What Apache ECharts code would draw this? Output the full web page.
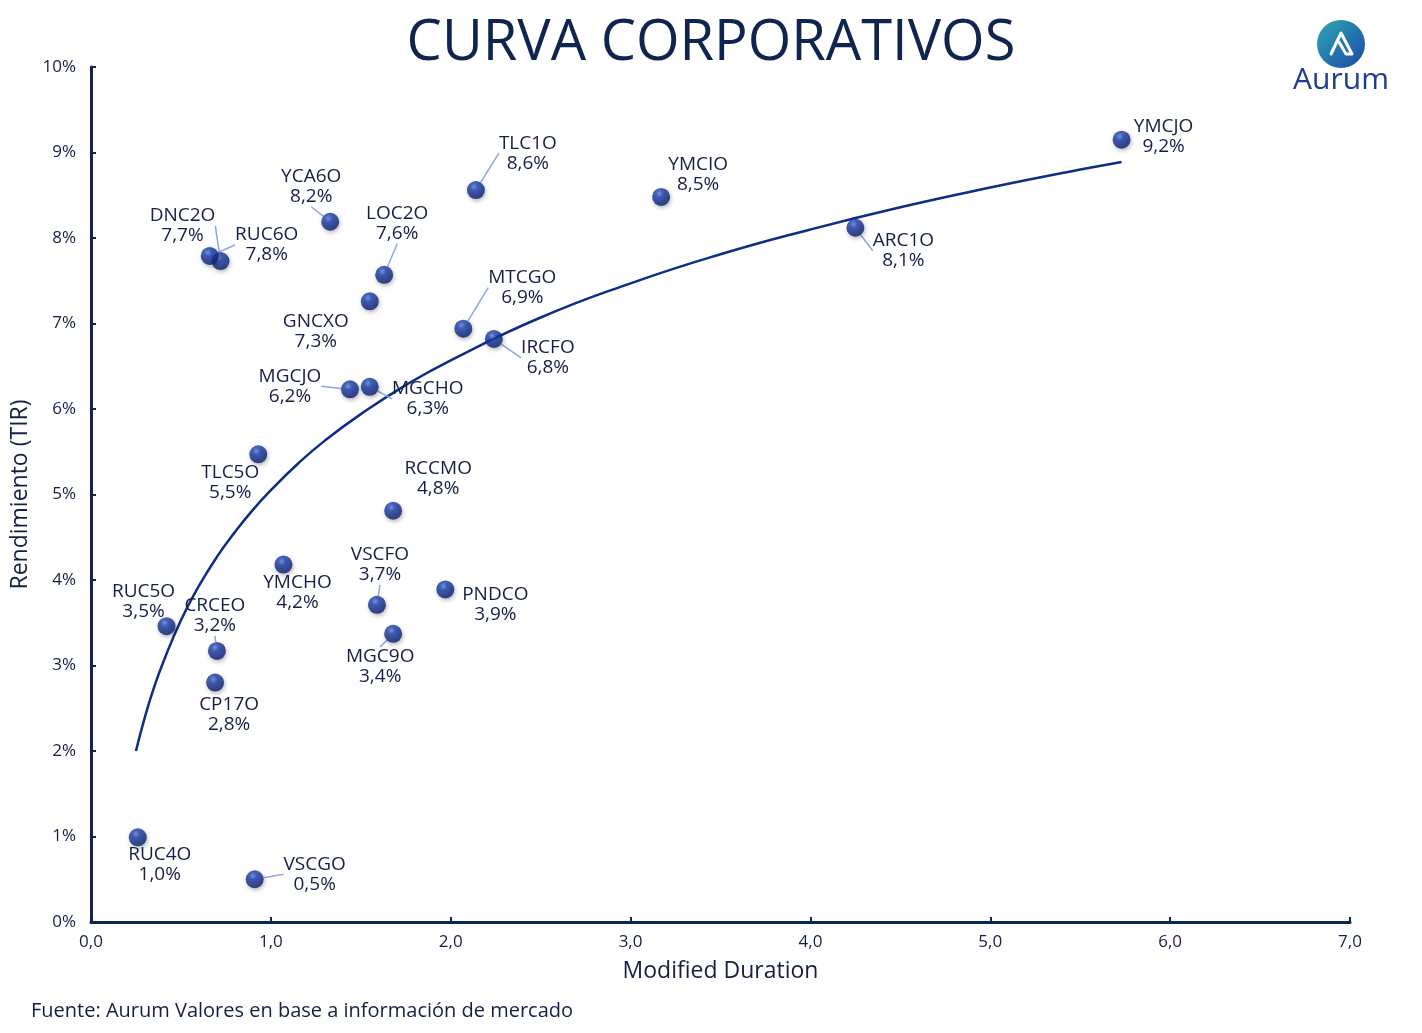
<!DOCTYPE html>
<html>
<head>
<meta charset="utf-8">
<title>Curva Corporativos</title>
<script src="https://cdn.jsdelivr.net/npm/echarts@6/dist/echarts.min.js"></script>
<style>
  html, body { margin: 0; padding: 0; background: #fff; }
  #main { width: 1422px; height: 1033px; }
</style>
</head>
<body>
<div id="main"></div>
<script>
// bonos: nombre, duration modificada, TIR (%)
const bonos = ['YMCJO', 'TLC1O', 'YMCIO', 'ARC1O', 'YCA6O', 'DNC2O', 'RUC6O', 'LOC2O', 'GNCXO', 'MTCGO', 'IRCFO',
  'MGCJO', 'MGCHO', 'TLC5O', 'RCCMO', 'YMCHO', 'PNDCO', 'VSCFO', 'MGC9O', 'RUC5O', 'CRCEO', 'CP17O', 'RUC4O', 'VSCGO'];
const duration = [5.73, 2.14, 3.17, 4.25, 1.33, 0.72, 0.66, 1.63, 1.55, 2.07, 2.24,
  1.44, 1.55, 0.93, 1.68, 1.07, 1.97, 1.59, 1.68, 0.42, 0.70, 0.69, 0.26, 0.91];
const tir = [9.15, 8.56, 8.48, 8.12, 8.19, 7.73, 7.79, 7.57, 7.26, 6.94, 6.82,
  6.23, 6.26, 5.47, 4.81, 4.18, 3.89, 3.71, 3.37, 3.46, 3.17, 2.80, 0.99, 0.50];

// curva de tendencia
const curvaX = [0.25, 0.3, 0.35, 0.4, 0.5, 0.6, 0.7, 0.8, 0.9, 1, 1.15, 1.3, 1.5, 1.75, 2, 2.5, 3, 3.5, 4, 4.5, 5, 5.5, 5.73];
const curvaY = [2.00, 2.40, 2.74, 3.03, 3.53, 3.93, 4.27, 4.56, 4.82, 5.05, 5.36, 5.63, 5.94, 6.28, 6.57, 7.07, 7.47, 7.81, 8.10, 8.36, 8.59, 8.80, 8.89];

const ejeX = [0, 1, 2, 3, 4, 5, 6, 7];
const ejeY = [0, 1, 2, 3, 4, 5, 6, 7, 8, 9, 10];

// desplazamiento de cada etiqueta (px) y si lleva linea guia
const etiquetaDx = [42, 52, 37, 48, -19, -38, 57, 13, -54, 59, 54, -60, 58, -28, 45, 14, 50, 3, -13, -23, -2, 14, 22, 60];
const etiquetaDy = [-3, -37, -22, 23, -35, -35, -11, -51, 30, -41, 19, -3, 12, 28, -32, 28, 15, -40, 33, -25, -35, 32, 27, -5];
const conLinea = [0, 1, 0, 1, 1, 1, 1, 1, 0, 1, 1, 1, 1, 0, 0, 0, 0, 1, 1, 0, 1, 0, 0, 1];

const navy = '#0f2550';
const texto = '#141f45';
const fuente = 'Open Sans';

const esfera = {
  type: 'radial', x: 0.4, y: 0.32, r: 0.7,
  colorStops: [
    { offset: 0, color: '#5f84e6' },
    { offset: 0.3, color: '#1c3fad' },
    { offset: 1, color: '#0a1c6a' }
  ]
};

const puntos = bonos.map((b, i) => ({
  name: b,
  value: [duration[i], tir[i]],
  labelLine: { show: !!conLinea[i] }
}));

const myChart = echarts.init(document.getElementById('main'));

const option = {
  backgroundColor: '#fff',
  animation: false,
  textStyle: { fontFamily: fuente },
  title: {
    text: 'CURVA CORPORATIVOS',
    left: 'center',
    top: 11,
    textStyle: { color: navy, fontSize: 56, fontWeight: 'normal', fontFamily: fuente }
  },
  grid: { left: 91, right: 72, top: 67, bottom: 111, containLabel: false },
  xAxis: {
    type: 'value',
    min: 0, max: 7, interval: 1,
    name: 'Modified Duration',
    nameLocation: 'middle',
    nameGap: 38,
    nameTextStyle: { color: texto, fontSize: 23, fontFamily: fuente },
    splitLine: { show: false },
    axisLine: { show: true, lineStyle: { color: navy, width: 3 } },
    axisTick: { show: true, inside: true, length: 5, lineStyle: { color: navy, width: 2 }, customValues: ejeX },
    axisLabel: {
      color: texto, fontSize: 17, margin: 12, customValues: ejeX,
      formatter: v => v.toFixed(1).replace('.', ',')
    }
  },
  yAxis: {
    type: 'value',
    min: 0, max: 10, interval: 1,
    name: 'Rendimiento (TIR)',
    nameLocation: 'middle',
    nameGap: 58,
    nameTextStyle: { color: texto, fontSize: 23, fontFamily: fuente },
    splitLine: { show: false },
    axisLine: { show: true, lineStyle: { color: navy, width: 3 } },
    axisTick: { show: true, inside: true, length: 5, lineStyle: { color: navy, width: 2 }, customValues: ejeY },
    axisLabel: { color: texto, fontSize: 17, margin: 15, customValues: ejeY, formatter: v => v + '%' }
  },
  series: [
    {
      name: 'Tendencia',
      type: 'line',
      smooth: true,
      symbol: 'none',
      data: curvaX.map((x, i) => [x, curvaY[i]]),
      lineStyle: { color: '#0d2d86', width: 2.5 },
      z: 1
    },
    {
      name: 'Bonos',
      type: 'scatter',
      symbolSize: 18,
      data: puntos,
      itemStyle: {
        color: esfera,
        shadowBlur: 4,
        shadowColor: 'rgba(0,0,0,0.35)',
        shadowOffsetX: 1,
        shadowOffsetY: 2
      },
      label: {
        show: true,
        position: 'inside',
        color: texto,
        textBorderWidth: 0,
        textBorderColor: 'transparent',
        textShadowBlur: 0,
        opacity: 1,
        fontSize: 19,
        fontWeight: 'normal',
        lineHeight: 20,
        fontFamily: fuente,
        formatter: p => p.name + '\n' + p.value[1].toFixed(1).replace('.', ',') + '%'
      },
      labelLayout: p => ({ dx: etiquetaDx[p.dataIndex], dy: etiquetaDy[p.dataIndex] }),
      labelLine: { show: false, lineStyle: { color: '#8ea6e6', width: 1.5 }, length2: 0 },
      z: 3
    }
  ],
  graphic: [
    {
      type: 'text',
      left: 31,
      top: 1001,
      style: { text: 'Fuente: Aurum Valores en base a información de mercado', fill: texto, fontSize: 20, fontFamily: fuente }
    },
    {
      type: 'circle',
      shape: { cx: 1341, cy: 44, r: 24 },
      style: {
        fill: {
          type: 'linear', x: 0, y: 0, x2: 1, y2: 1,
          colorStops: [{ offset: 0, color: '#2fa9b4' }, { offset: 1, color: '#1b48a6' }]
        }
      }
    },
    {
      type: 'polyline',
      shape: { points: [[1331, 54], [1341, 33], [1352, 54], [1346, 54], [1339, 42]] },
      style: { stroke: '#fff', lineWidth: 3, fill: null, lineJoin: 'round', lineCap: 'round' }
    },
    {
      type: 'text',
      x: 1341,
      y: 80,
      style: { text: 'Aurum', fill: '#1e3c8e', fontSize: 30, fontFamily: fuente, align: 'center', verticalAlign: 'middle' }
    }
  ]
};

myChart.setOption(option);
</script>
</body>
</html>
